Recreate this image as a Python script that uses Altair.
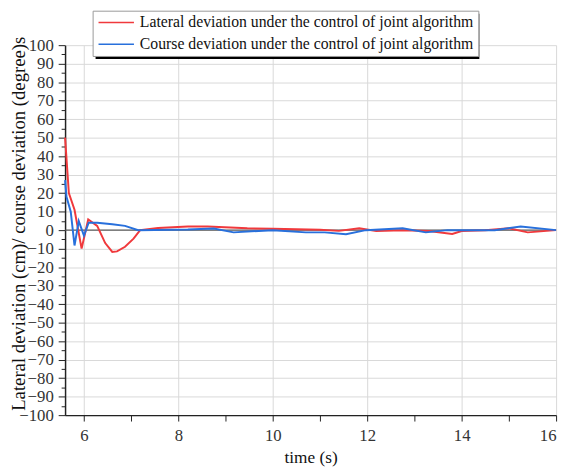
import altair as alt
import pandas as pd

lat_t = [5.6, 5.68, 5.8, 5.95, 6.09, 6.28, 6.45, 6.6, 6.7, 6.87, 7.05, 7.19, 7.57, 8.2, 8.62,
         9.46, 10.0, 10.5, 11.0, 11.4, 11.83, 12.19, 12.75, 13.3, 13.8, 14.0, 14.5, 15.0, 15.4, 16.0]
lat_v = [50, 20, 11, -10, 5.8, 2.3, -7, -11.8, -11.5, -9, -4.6, 0, 1.2, 2, 2,
         1.0, 0.8, 0.5, 0.2, -0.4, 1, -0.5, 0, -0.5, -2.1, -0.5, 0, 1, -1.2, 0]
crs_t = [5.6, 5.63, 5.72, 5.8, 5.89, 6.0, 6.1, 6.28, 6.6, 6.87, 7.15, 8.2, 8.75, 9.17, 10.0,
         10.7, 11.1, 11.55, 11.97, 12.75, 13.24, 13.7, 14.7, 15.25, 16.0]
crs_v = [27, 18, 10, -8.3, 4.9, -3, 4, 4, 3.2, 2.3, 0, 0.3, 0.9, -1.2, 0,
         -1.2, -1.2, -2.2, 0, 1, -1.2, 0, 0, 2, 0]

s_lat = "Lateral deviation under the control of joint algorithm"
s_crs = "Course deviation under the control of joint algorithm"

df = pd.concat([
    pd.DataFrame({"t": lat_t, "v": lat_v, "s": s_lat, "o": range(len(lat_t))}),
    pd.DataFrame({"t": crs_t, "v": crs_v, "s": s_crs, "o": range(len(crs_t))}),
])

FONT = "Liberation Serif"
xs = alt.Scale(domain=[5.6, 16], nice=False, zero=False)
ys = alt.Scale(domain=[-100, 100], nice=False)

x_axis = alt.Axis(
    values=list(range(6, 17)), tickCount=30, format="d", title="time (s)",
    labelExpr="datum.value % 2 === 0 ? datum.label : ''", labelOverlap=False,
    tickSize=6, labelPadding=7, grid=True, gridColor="#d8d8d8",
    gridOpacity={"condition": {"test": "datum.value % 2 === 0", "value": 1}, "value": 0},
    titlePadding=5, titleFontSize=17.5, labelFontSize=17,
)
y_axis = alt.Axis(
    values=list(range(-100, 101, 5)), tickCount=100, format="d",
    title="Lateral deviation (cm)/ course deviation (degree)s",
    labelExpr="datum.value % 10 === 0 ? datum.label : ''", labelOverlap=False,
    tickSize={"condition": {"test": "datum.value % 10 === 0", "value": 7}, "value": 4},
    labelPadding=5, labelFontSize=17, labelBaseline="middle",
    grid=True, gridColor="#d8d8d8",
    gridOpacity={"condition": {"test": "datum.value % 10 === 0 && datum.value !== 0", "value": 1}, "value": 0},
    titleX=-37, titleY=181, titleFontSize=19,
)

# drop shadow behind the legend box
shadow = alt.Chart(pd.DataFrame({"a": [0]})).mark_rect(color="black").encode(
    x=alt.value(31), x2=alt.value(421), y=alt.value(-32), y2=alt.value(14)
)

zero = alt.Chart(pd.DataFrame({"z": [0]})).mark_rule(color="#555", strokeWidth=1.3).encode(
    y=alt.Y("z:Q", scale=ys)
)

lines = alt.Chart(df).mark_line(strokeWidth=2).encode(
    x=alt.X("t:Q", scale=xs, axis=x_axis),
    y=alt.Y("v:Q", scale=ys, axis=y_axis),
    color=alt.Color("s:N", scale=alt.Scale(domain=[s_lat, s_crs], range=["#f0393c", "#2870dc"]),
                    legend=alt.Legend(title=None, orient="none", legendX=28, legendY=-35,
                                      symbolType="M-3,0H3", symbolSize=144, symbolStrokeWidth=1.5,
                                      symbolOffset=12, labelOffset=16,
                                      labelFont=FONT, labelFontSize=16, labelColor="#111",
                                      strokeColor="#999", fillColor="white", padding=4,
                                      rowPadding=6, labelLimit=500)),
    order="o:Q",
)

chart = alt.layer(shadow, zero, lines).properties(
    width=499, height=376,
    autosize=alt.AutoSizeParams(type="none"),
    padding={"left": 58, "top": 34, "right": 6, "bottom": 52},
).configure_axis(
    labelFont=FONT, labelColor="#333", titleFont=FONT,
    titleFontWeight="normal", titleColor="#111", domainColor="#222", domainWidth=1.5, tickColor="#222",
).configure_view(stroke=None)

chart.save("out.html", embed_options={"renderer": "svg", "actions": False})
